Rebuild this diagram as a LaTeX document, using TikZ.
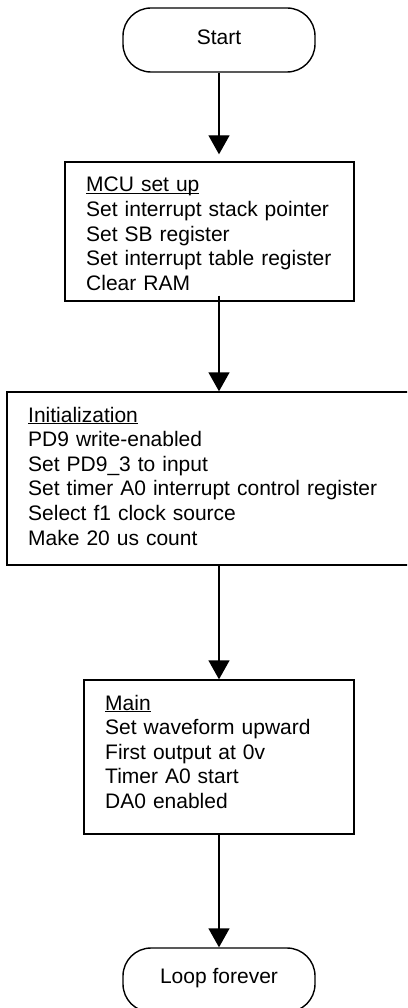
\documentclass[tikz,border=0pt]{standalone}
\usepackage{fontspec}
\setmainfont{Liberation Sans}
\usetikzlibrary{arrows.meta}
\newcommand\myul[1]{\leavevmode\setbox0\hbox{#1}\rlap{\rule[-2.4pt]{\wd0}{1.4pt}}\box0}
\begin{document}
\begin{tikzpicture}[x=1pt,y=-1pt,
  every node/.style={font=\fontsize{21}{24.6}\selectfont},
  term/.style={draw,line width=1.4pt,rounded corners=28pt,minimum width=192pt,minimum height=64pt,inner sep=0pt,text height=15pt},
  procbox/.style={draw,line width=1.4pt,inner sep=0pt},
  bodytext/.style={anchor=base west,inner sep=0pt,text width=380pt,align=left},
  flow/.style={line width=1.4pt,-{Triangle[width=21pt,length=19pt]}}]
\useasboundingbox (0,0) rectangle (407,1008);
\clip (0,0) rectangle (407,1008);

\node[term,text depth=5pt] (start) at (219,40) {Start};
\node[procbox,minimum width=289pt,minimum height=139pt] (mcu) at (209.5,231.5) {};
\node[bodytext] (mcutext) at (86,192) {\myul{MCU set up}\\Set interrupt stack pointer\\Set SB register\\Set interrupt table register\\Clear RAM};
\node[procbox,minimum width=424pt,minimum height=173pt] (init) at (219,478.5) {};
\node[bodytext] (inittext) at (28,422) {\myul{Initialization}\\PD9 write-enabled\\Set PD9\_3 to input\\Set timer A0 interrupt control register\\Select f1 clock source\\Make 20 us count};
\node[procbox,minimum width=270pt,minimum height=154pt] (main) at (219,757) {};
\node[bodytext] (maintext) at (105,710) {\myul{Main}\\Set waveform upward\\First output at 0v\\Timer A0 start\\DA0 enabled};
\node[term,text depth=9pt] (loop) at (219,980) {Loop forever};

\draw[flow,shorten >=7pt] (start.south) -- (start.south |- mcu.north);
\draw[flow] ([yshift=6pt]mcu.south -| start.south) -- (init.north -| start.south);
\draw[flow] (init.south -| start.south) -- (main.north -| start.south);
\draw[flow] (main.south -| start.south) -- (loop.north);
\end{tikzpicture}
\end{document}
